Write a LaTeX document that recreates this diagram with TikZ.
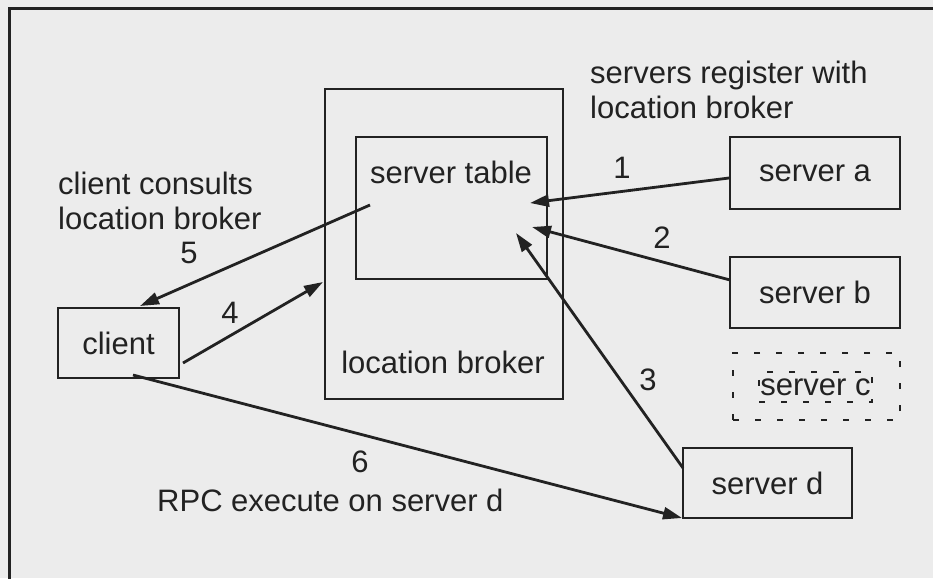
\documentclass[tikz,border=0pt]{standalone}
\usepackage{fontspec}
\setmainfont{Liberation Sans}
\usetikzlibrary{arrows.meta}
\definecolor{paper}{HTML}{ECECEC}
\definecolor{ink}{HTML}{222222}
\begin{document}
\begin{tikzpicture}[x=1pt,y=-1pt,
  every node/.style={font=\fontsize{31}{35}\selectfont, text=ink},
  box/.style={draw=ink, line width=2.2pt, inner sep=0pt},
  dbox/.style={draw=ink, line width=2pt, dash pattern=on 6pt off 16pt, inner sep=0pt},
  conn/.style={draw=ink, line width=2.8pt, -{Triangle[length=19pt,width=12pt]}},
  lbl/.style={inner sep=0pt}
]
\useasboundingbox (0,0) rectangle (933,578);
\fill[paper] (0,0) rectangle (933,578);
\begin{scope}
  \clip (0,0) rectangle (933,578);
  \draw[ink, line width=3pt] (9,600) -- (9,9) -- (950,9);
\end{scope}

% location broker with its server table
\node[box, minimum width=238pt, minimum height=310pt] (lb) at (444,244) {};
\node[box, minimum width=191pt, minimum height=142pt] (st) at (451.5,208) {};
\node[lbl] (sttext) at (451,172) {server table};
\node[lbl] (lbtext) at (443,362) {location broker};

% servers
\node[box, minimum width=170pt, minimum height=72pt] (sa) at (815,173) {server a};
\node[box, minimum width=170pt, minimum height=71pt] (sb) at (815,292.5) {server b};
\node[dbox, minimum width=167pt, minimum height=67pt] (sc) at (816.5,386.5) {};
\node[dbox, minimum width=113pt, minimum height=30pt] (scin) at (815.5,387) {server c};
\node[box, minimum width=169pt, minimum height=70pt] (sd) at (767.5,483) {server d};

% client
\node[box, minimum width=121pt, minimum height=70pt] (cl) at (118.5,343) {client};

% connector end points
\coordinate (a1) at (729,178);  \coordinate (t1) at (530,203);
\coordinate (a2) at (730,280);  \coordinate (t2) at (532,227);
\coordinate (a3) at (683,468);  \coordinate (t3) at (516,233);
\coordinate (a4) at (183,363);  \coordinate (t4) at (323,282);
\coordinate (a5) at (370,205);  \coordinate (t5) at (140,306);
\coordinate (a6) at (133,375);  \coordinate (t6) at (682,518);

\draw[conn] (a1) -- (t1);
\draw[conn] (a2) -- (t2);
\draw[conn] (a3) -- (t3);
\draw[conn] (a4) -- (t4);
\draw[conn] (a5) -- (t5);
\draw[conn] (a6) -- (t6);

% step numbers
\node[lbl] (n1) at (622,168) {1};
\node[lbl] (n2) at (662,238) {2};
\node[lbl] (n3) at (648,380) {3};
\node[lbl] (n4) at (230,313) {4};
\node[lbl] (n5) at (189,253) {5};
\node[lbl] (n6) at (360,462) {6};

% captions
\node[lbl, align=left, anchor=west] (capreg) at (590,90) {servers register with\\location broker};
\node[lbl, align=left, anchor=west] (capcl) at (58,201) {client consults\\location broker};
\node[lbl, anchor=west] (caprpc) at (157,500) {RPC execute on server d};
\end{tikzpicture}
\end{document}
